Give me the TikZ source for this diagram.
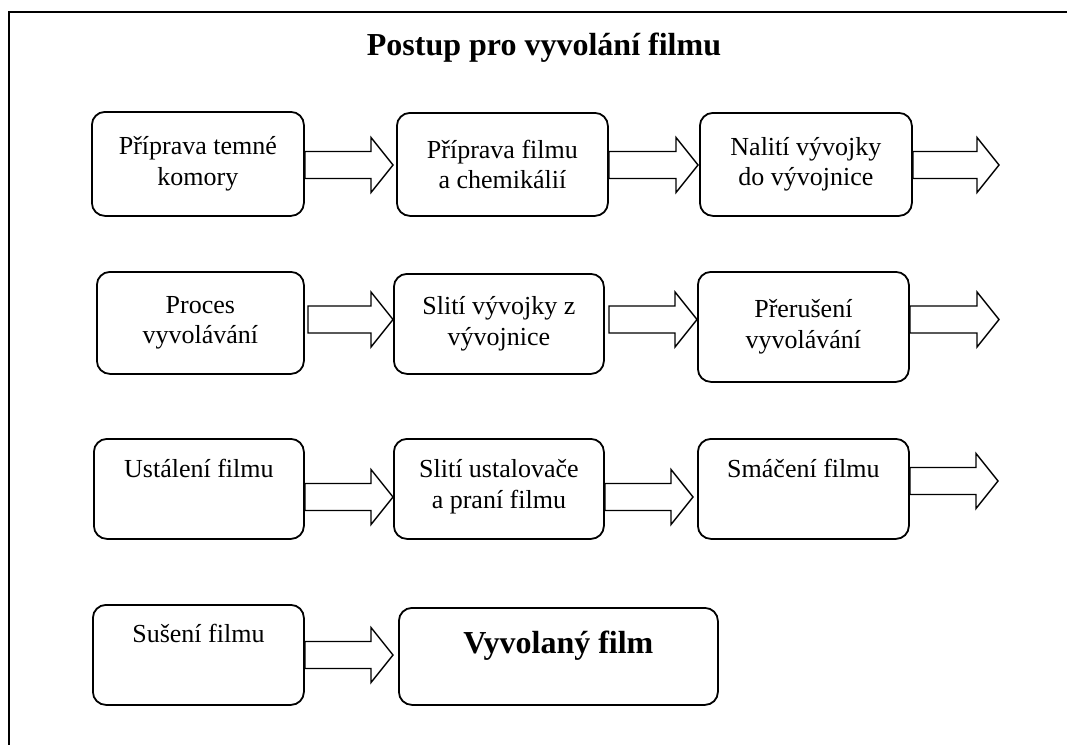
\documentclass[tikz,border=0pt]{standalone}
\usepackage{fontspec}
\setmainfont{Liberation Serif}
\usetikzlibrary{calc}

\tikzset{
  x=1pt, y=-1pt,
  stage/.style={draw, line width=1.8pt, rounded corners=13pt, anchor=north west,
    inner sep=0pt, align=center, font=\fontsize{26}{30.5}\selectfont},
  stagetext/.style={anchor=base, inner sep=0pt, align=center,
    font=\fontsize{26}{31}\selectfont},
  flowarrow/.style={draw, line width=1.4pt, fill=white, line join=miter},
  frame/.style={draw, line width=1.5pt},
}

% hollow block arrow from a tail point to a tip point on the same level
\newcommand\blockarrow[2]{%
  \draw[flowarrow] let \p1=(#1), \p2=(#2) in
    (\x1,\y1+13.5pt) -- (\x2-22pt,\y1+13.5pt) -- (\x2-22pt,\y1+27.5pt) -- (\x2,\y1)
    -- (\x2-22pt,\y1-27.5pt) -- (\x2-22pt,\y1-13.5pt) -- (\x1,\y1-13.5pt) -- cycle;}

\begin{document}
\begin{tikzpicture}
\useasboundingbox (0,0) rectangle (1067,744);

% outer frame (runs past the page on the right and at the bottom)
\draw[frame] (9,800) -- (9,12) -- (1100,12);

% title
\node[anchor=base, inner sep=0pt, font=\fontsize{32}{38}\selectfont\bfseries]
  (title) at (544,55) {Postup pro vyvolání filmu};

% row levels of the arrows
\coordinate (row1) at (0,165);
\coordinate (row2) at (0,319.5);
\coordinate (row3) at (0,497);
\coordinate (row3b) at (0,481);
\coordinate (row4) at (0,655);

% row 1
\node[stage, minimum width=212pt, minimum height=104pt] (b1) at (91,111)
  {Příprava temné\\komory};
\node[stage, minimum width=211pt, minimum height=103pt] (b2) at (396,112)
  {Příprava filmu\\a chemikálií};
\node[stage, minimum width=212pt, minimum height=103pt] (b3) at (699,112)
  {Nalití vývojky\\do vývojnice};

% row 2
\node[stage, minimum width=207pt, minimum height=102pt] (b4) at (96,271)
  {Proces\\vyvolávání};
\node[stage, minimum width=210pt, minimum height=100pt] (b5) at (393,273)
  {Slití vývojky z\\vývojnice};
\node[stage, minimum width=211pt, minimum height=110pt] (b6) at (697,271)
  {Přerušení\\vyvolávání};

% row 3 (labels sit near the top of the boxes)
\node[stage, minimum width=210pt, minimum height=100pt] (b7) at (93,438) {};
\node[stage, minimum width=210pt, minimum height=100pt] (b8) at (393,438) {};
\node[stage, minimum width=211pt, minimum height=100pt] (b9) at (697,438) {};
\node[stagetext] (t7) at ($(b7.north)+(0,39)$) {Ustálení filmu};
% a two-line label takes its base from the last line
\node[stagetext] (t8) at ($(b8.north)+(0,70)$) {Slití ustalovače\\a praní filmu};
\node[stagetext] (t9) at ($(b9.north)+(0,39)$) {Smáčení filmu};

% row 4
\node[stage, minimum width=211pt, minimum height=100pt] (b10) at (92,604) {};
\node[stage, minimum width=319pt, minimum height=97pt] (b11) at (398,607) {};
\node[stagetext] (t10) at ($(b10.north)+(0,38)$) {Sušení filmu};
\node[stagetext, font=\fontsize{32}{38}\selectfont\bfseries] (t11)
  at ($(b11.north)+(0,46)$) {Vyvolaný film};

% arrow tips and detached tails
\coordinate (tip1) at (393,165);
\coordinate (tip2) at (698,165);
\coordinate (tip3) at (999,165);
\coordinate (tip4) at (393,319.5);
\coordinate (tip5) at (697,319.5);
\coordinate (tip6) at (999,319.5);
\coordinate (tip7) at (393,497);
\coordinate (tip8) at (693,497);
\coordinate (tip9) at (998,481);
\coordinate (tip10) at (393,655);
\coordinate (tail4) at (308,319.5);
\coordinate (tail5) at (609,319.5);

% block arrows between the stages
\blockarrow{b1.east |- row1}{tip1}
\blockarrow{b2.east |- row1}{tip2}
\blockarrow{b3.east |- row1}{tip3}
\blockarrow{tail4}{tip4}
\blockarrow{tail5}{tip5}
\blockarrow{b6.east |- row2}{tip6}
\blockarrow{b7.east |- row3}{tip7}
\blockarrow{b8.east |- row3}{tip8}
\blockarrow{b9.east |- row3b}{tip9}
\blockarrow{b10.east |- row4}{tip10}
\end{tikzpicture}
\end{document}
